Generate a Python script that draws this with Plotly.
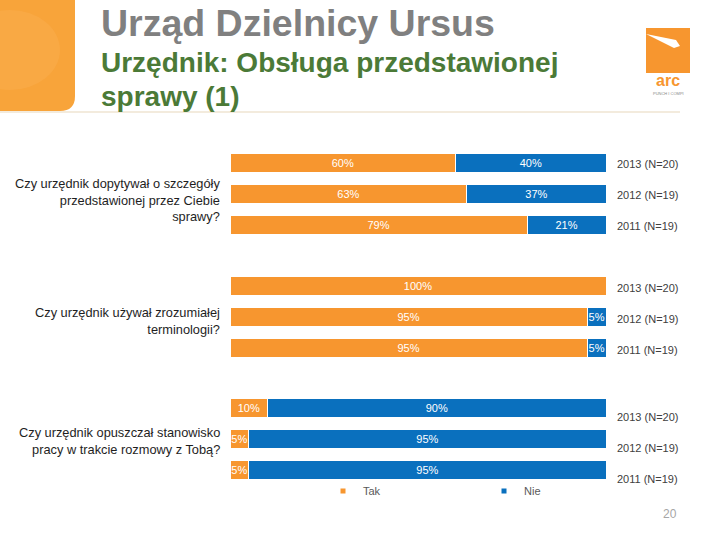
import plotly.graph_objects as go
from plotly.subplots import make_subplots

# dane z wykresu
years = ['2013 (N=20)', '2012 (N=19)', '2011 (N=19)']
questions = [
    'Czy urzędnik dopytywał o szczegóły<br>przedstawionej przez Ciebie<br>sprawy?',
    'Czy urzędnik używał zrozumiałej<br>terminologii?',
    'Czy urzędnik opuszczał stanowisko<br>pracy w trakcie rozmowy z Tobą?',
]
tak = [[60, 63, 79], [100, 95, 95], [10, 5, 5]]
nie = [[40, 37, 21], [0, 5, 5], [90, 95, 95]]
series_names = ['Tak', 'Nie']

ORANGE = '#F7962F'
BLUE = '#0A70BE'
W, H = 720, 540

# pozycje w pikselach (góra, dół) dla każdej grupy
rows_px = [(147.5, 240.5), (270.5, 363.5), (392.5, 485.5)]
label_px = [200, 321, 441]
tick_shift = [1, 2, 9]
x_px = (230, 606)


def pct(v):
    return [f'{a}%' if a > 0 else '' for a in v]


fig = make_subplots(rows=3, cols=1)

for i in range(3):
    for vals, name, col in [(tak[i], series_names[0], ORANGE), (nie[i], series_names[1], BLUE)]:
        fig.add_trace(go.Bar(
            y=years, x=vals, orientation='h', name=name,
            marker=dict(color=col, line=dict(color='white', width=1)),
            text=pct(vals), textposition='inside', insidetextanchor='middle', textangle=0,
            textfont=dict(color='white', size=11, family='Liberation Sans, Arial'),
            showlegend=False, hoverinfo='skip', cliponaxis=False,
        ), row=i + 1, col=1)

# legenda z małymi kwadratami
for name, col in [(series_names[0], ORANGE), (series_names[1], BLUE)]:
    fig.add_trace(go.Scatter(x=[None], y=[None], mode='markers', name=name,
                             marker=dict(symbol='square', size=5, color=col)),
                  row=3, col=1)

fig.update_layout(barmode='stack', bargap=0.36, width=W, height=H,
                  margin=dict(l=0, r=0, t=0, b=0),
                  paper_bgcolor='white', plot_bgcolor='white',
                  uniformtext=dict(minsize=11, mode='show'),
                  legend=dict(orientation='h', x=323 / W, y=1 - 491 / H,
                              xanchor='left', yanchor='middle', traceorder='normal',
                              entrywidth=116, entrywidthmode='pixels',
                              font=dict(size=11, color='#595959', family='Liberation Sans, Arial'),
                              bgcolor='rgba(0,0,0,0)', itemwidth=30))

for i in range(3):
    top, bot = rows_px[i]
    xa = 'xaxis' if i == 0 else f'xaxis{i + 1}'
    ya = 'yaxis' if i == 0 else f'yaxis{i + 1}'
    fig.layout[xa].update(domain=[x_px[0] / W, x_px[1] / W], range=[0, 100],
                          visible=False, fixedrange=True)
    fig.layout[ya].update(domain=[1 - bot / H, 1 - top / H], autorange='reversed',
                          side='right', showgrid=False, showline=False, ticks='',
                          ticklabelstandoff=10, ticklabelshift=-tick_shift[i], fixedrange=True,
                          tickfont=dict(size=11, color='#404040', family='Liberation Sans, Arial'))
    fig.add_annotation(xref='paper', yref='paper', x=222 / W, y=1 - label_px[i] / H,
                       text=questions[i], showarrow=False, xanchor='right', yanchor='middle',
                       align='right',
                       font=dict(size=12.8, color='#1e1e1e', family='Liberation Sans, Arial'))

# nagłówek
shapes = [
    dict(type='path', xref='paper', yref='paper',
         path=f'M 0 {1} L {75 / W} 1 L {75 / W} {1 - 96 / H} Q {75 / W} {1 - 111 / H} {60 / W} {1 - 111 / H} L 0 {1 - 111 / H} Z',
         fillcolor='#F8A43A', line=dict(width=0), layer='below'),
    dict(type='circle', xref='paper', yref='paper', x0=-40 / W, x1=60 / W, y0=1 - 90 / H, y1=1 - 10 / H,
         fillcolor='rgba(255,190,110,0.2)', line=dict(width=0), layer='below'),
    dict(type='line', xref='paper', yref='paper', x0=0, x1=680 / W, y0=1 - 112 / H, y1=1 - 112 / H,
         line=dict(color='#EFE4D2', width=1.5)),
    # logo
    dict(type='rect', xref='paper', yref='paper', x0=646 / W, x1=690 / W, y0=1 - 73 / H, y1=1 - 28 / H,
         fillcolor='#F7962F', line=dict(width=0)),
    dict(type='path', xref='paper', yref='paper',
         path=f'M {646 / W} {1 - 34 / H} L {676 / W} {1 - 40 / H} L {680 / W} {1 - 46 / H} L {674 / W} {1 - 48 / H} Z',
         fillcolor='white', line=dict(width=0)),
]
fig.update_layout(shapes=shapes)

fig.add_annotation(xref='paper', yref='paper', x=99 / W, y=1 - 23 / H, text='<b>Urząd Dzielnicy Ursus</b>',
                   showarrow=False, xanchor='left', yanchor='middle',
                   font=dict(size=37.5, color='#808080', family='Liberation Sans'))
fig.add_annotation(xref='paper', yref='paper', x=99 / W, y=1 - 62 / H,
                   text='<b>Urzędnik: Obsługa przedstawionej</b>',
                   showarrow=False, xanchor='left', yanchor='middle', align='left',
                   font=dict(size=28, color='#4B7A37', family='Liberation Sans'))
fig.add_annotation(xref='paper', yref='paper', x=99 / W, y=1 - 97 / H,
                   text='<b>sprawy (1)</b>',
                   showarrow=False, xanchor='left', yanchor='middle', align='left',
                   font=dict(size=28, color='#4B7A37', family='Liberation Sans'))
fig.add_annotation(xref='paper', yref='paper', x=668 / W, y=1 - 80 / H, text='<b>arc</b>',
                   showarrow=False, xanchor='center', yanchor='middle',
                   font=dict(size=16, color='#F7962F', family='Liberation Sans'))
fig.add_annotation(xref='paper', yref='paper', x=668 / W, y=1 - 93 / H, text='PUNCH I COMPI',
                   showarrow=False, xanchor='center', yanchor='middle',
                   font=dict(size=4, color='#888888', family='Liberation Sans'))
fig.add_annotation(xref='paper', yref='paper', x=670 / W, y=1 - 514 / H, text='20',
                   showarrow=False, xanchor='center', yanchor='middle',
                   font=dict(size=12, color='#A6A6A6', family='Liberation Sans'))

fig.write_html('out.html', config={'displayModeBar': False},
               post_script="document.body.style.margin='0';")
